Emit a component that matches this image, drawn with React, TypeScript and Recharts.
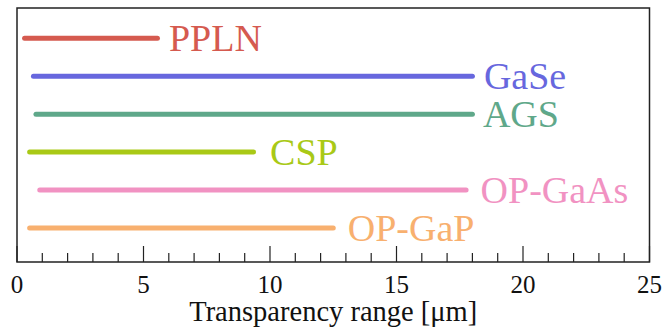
import React from "react";
import { LineChart, Line, XAxis, YAxis, ReferenceArea } from "recharts";

// crystals, top to bottom
const crystals = ["PPLN", "GaSe", "AGS", "CSP", "OP-GaAs", "OP-GaP"];
// transparency range edges in µm
const rangeStart = [0.3, 0.65, 0.75, 0.5, 0.9, 0.5];
const rangeEnd = [5.55, 18, 18, 9.35, 17.75, 12.5];
const xTicks = [0, 1, 2, 3, 4, 5, 6, 7, 8, 9, 10, 11, 12, 13, 14, 15, 16, 17, 18, 19, 20, 21, 22, 23, 24, 25];

const colors = ["#d55a4f", "#6767de", "#5fa88a", "#a9c916", "#f192c2", "#f8b06f"];
// px between the end of a bar and its name
const labelGap = [9, 9, 8, 14, 12, 12];
const serif = '"Liberation Serif", "Times New Roman", Times, serif';

const rows = crystals.map((name, i) => ({
  name,
  color: colors[i],
  gap: labelGap[i],
  data: [
    { x: rangeStart[i], y: crystals.length - i },
    { x: rangeEnd[i], y: crystals.length - i },
  ],
}));

function AxisTick(props: any) {
  const { x, y, payload } = props;
  const major = payload.value % 5 === 0;
  return (
    <g>
      <line x1={x} x2={x} y1={y} y2={y - (major ? 16 : 9)} stroke="#222" strokeWidth={1.2} />
      {major && (
        <text x={x} y={y + 31} textAnchor="middle" fontSize={25} fontFamily={serif} fill="#111">
          {payload.value}
        </text>
      )}
    </g>
  );
}

export default function App() {
  return (
    <div style={{ position: "absolute", left: 0, top: 0, background: "#fff" }}>
      <LineChart
        width={663}
        height={329}
        margin={{ top: 8, right: 13.5, bottom: 0, left: 17 }}
      >
        <XAxis
          type="number"
          dataKey="x"
          domain={[0, 25]}
          ticks={xTicks}
          interval={0}
          height={67}
          tickSize={0}
          tickMargin={0}
          tickLine={false}
          axisLine={false}
          tick={<AxisTick />}
          label={{
            value: "Transparency range [μm]",
            position: "insideBottom",
            offset: 8,
            style: { fontSize: 28.5, fontFamily: serif, fill: "#111" },
          }}
        />
        <YAxis type="number" dataKey="y" domain={[0.1, 6.8]} hide />
        <ReferenceArea
          x1={0}
          x2={25}
          y1={0.1}
          y2={6.8}
          fill="none"
          stroke="#222"
          strokeWidth={1.5}
          ifOverflow="visible"
        />
        {rows.map(r => (
          <Line
            key={r.name}
            data={r.data}
            dataKey="y"
            stroke={r.color}
            strokeWidth={5}
            strokeLinecap="round"
            dot={false}
            isAnimationActive={false}
            label={(p: any) =>
              p.index === 1 ? (
                <text
                  key={r.name}
                  x={p.x + 2.5 + r.gap}
                  y={p.y + 13}
                  fontSize={38}
                  fontFamily={serif}
                  fill={r.color}
                >
                  {r.name}
                </text>
              ) : (
                <g key={r.name + "-s"} />
              )
            }
          />
        ))}
      </LineChart>
    </div>
  );
}
